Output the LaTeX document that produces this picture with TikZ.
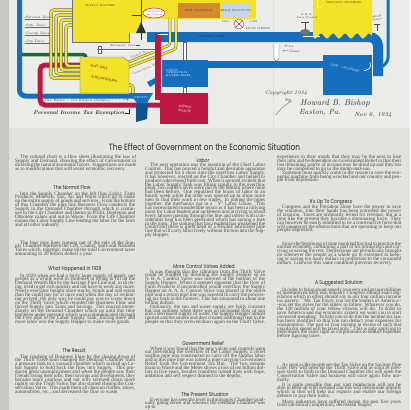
\documentclass[tikz,border=0pt]{standalone}
\usepackage{fontspec}
\newfontfamily\headfont[FakeStretch=0.82]{Poppins}
\newfontfamily\bodyfont{Liberation Serif}
\usetikzlibrary{arrows.meta}
\definecolor{paper}{RGB}{226,227,223}
\definecolor{paperlight}{RGB}{236,237,235}
\definecolor{chartyellow}{RGB}{242,226,40}
\definecolor{chartblue}{RGB}{22,110,190}
\definecolor{chartred}{RGB}{188,24,66}
\definecolor{chartgreen}{RGB}{28,105,50}
\definecolor{chartorange}{RGB}{214,138,48}
\definecolor{chartpale}{RGB}{196,214,232}
\colorlet{inkbody}{black!72}
\colorlet{inkhead}{black!85}
\colorlet{inkdark}{black!80}
\newcommand{\parstart}{\hspace*{5pt}}
\tikzset{
  chart/label/.style={font=\fontsize{2.6}{2.9}\selectfont, inner sep=0pt, text=inkdark},
  chart/hand/.style={font=\itshape\fontsize{3.8}{4.2}\selectfont, inner sep=0pt, text=inkdark},
  chart/head/.style={font=\headfont\fontsize{5.5}{6}\selectfont, inner sep=0pt, text=inkhead},
  chart/body/.style={font={\bodyfont\fontsize{5.1}{3.9}\selectfont\lineskiplimit=-5pt}, text=inkbody,
    text width=#1, align=justify, inner sep=0pt, anchor=base west},
  chart/taxpipe/.style={draw=black!65, line width=0.45pt, double=chartyellow, double distance=#1, rounded corners=3pt}
}

\begin{document}
\begin{tikzpicture}[x=1pt, y=-1pt]
\useasboundingbox (0,0) rectangle (410,410);
\clip (0,0) rectangle (410,410);
\fill[paper] (0,0) rectangle (410,410);
\fill[paperlight] (9,0) rectangle (410,128);
\fill[paper!88!black] (0,0) rectangle (9,410);
\draw[black!12, line width=0.6pt] (273,0) -- (273,410);

% supply side
\draw[chartblue, line width=5pt, rounded corners=6pt] (19.5,-5) -- (19.5,96) -- (140,96);
\draw[chartgreen, line width=3.5pt, rounded corners=3pt] (22,54.5) -- (86,54.5) -- (86,62);
\draw[chartred, line width=5pt, rounded corners=5pt] (82,65) -- (40,65) -- (40,105) -- (163,105);
\foreach \i in {0,...,3}
  \draw[chart/taxpipe=2.4pt] (74,10+5*\i) -- (51+5*\i,10+5*\i) -- (51+5*\i,78-4*\i) -- (82,78-4*\i);
\fill[chartyellow, draw=black!55, line width=0.4pt] (72,-2) rectangle (129,42);
\node[chart/label] (hopper) at (100,6) {SUPPLY HOPPER};
\fill[chartyellow] (129,-2) rectangle (256,19);
\fill[chartyellow] (129,19) rectangle (141,33);
\draw[black!80, line width=0.6pt] (141,0) -- (141,40);
\fill[black!80] (136,33) -- (146,33) -- (141,22) -- cycle;
\draw[black!80, line width=0.8pt] (132,15) -- (141,15);
\draw[chartred, fill=white, line width=0.5pt] (154,13) ellipse [x radius=11, y radius=5];
\node[chart/label, text=chartred, align=center, font=\fontsize{2.2}{2.5}\selectfont] (taxctl) at (154,13) {Conservation\\Tax Control};
\fill[chartorange] (178,3) rectangle (220,18);
\node[chart/label] (raw) at (199,10.5) {RAW MATERIAL};
\fill[chartpale] (222,3) rectangle (250,18);
\node[chart/label] (farm) at (236,10.5) {FARM PRODUCTS};
\draw[black!70, fill=white, line width=0.4pt] (239,24) circle [radius=5];
\draw[chartred, line width=0.5pt] (235.5,20.5) -- (242.5,27.5) (235.5,27.5) -- (242.5,20.5);
\node[chart/label] (yearA) at (227,22) {1934---};
\node[chart/label] (yearB) at (252,22) {---1929};
\node[chart/label] (meter) at (258,28.8) {FLOW METER};

% business flow
\draw[chartblue, line width=10pt, rounded corners=9pt] (147,37) -- (378,37) -- (378,76);
\node[chart/label, text=chartblue!35!black, font=\headfont\addfontfeature{LetterSpace=30}\fontsize{2.6}{3}\selectfont] (bizflow) at (212,37) {BUSINESS FLOW};
\fill[chartyellow] (313,-2) -- (372,-2) -- plot[domain=372:313, samples=60] (\x,{36+2.5*sin(\x*30)}) -- cycle;
\draw[white, line width=0.8pt] (317,-1) -- (317,7) -- (322,7);
\node[chart/label] (demand) at (344,3) {DEMAND CHAMBER};
\foreach \j in {0,1}
  \draw[chart/taxpipe=1.8pt] (170+6*\j,18) -- (170+6*\j,45+4*\j) -- (129,62+5*\j);
\node[chart/label, rotate=22] (ctltax) at (139,54.5) {Control Tax};
\node[chart/label, rotate=22] (constax) at (145,69) {Conservation Tax};
\draw[black!60, line width=0.3pt, double=white, double distance=1pt] (97,50) -- (160,50);
\draw[black!60, line width=0.3pt] (98,46.5) rectangle (101,53.5);
\node[chart/label] (autovalve) at (123,45.5) {Automatic Valve};
\coordinate (valvetip) at (140,45.5);
\draw[black!70, line width=0.3pt, -{Stealth[length=1.5pt]}] (autovalve) -- (valvetip);
\draw[chartred, line width=5.5pt] (158,33) -- (158,100);
\draw[white, line width=0.7pt] (158,34.5) -- (168,34.5);
\node[chart/label, align=center] (nra) at (307,16) {N.\,R.\,A.\\Price Control};
\draw[black!70, line width=0.6pt] (305,22) -- (305,30) (301,22) -- (309,22);
\fill[black!55] (305,32) ellipse [x radius=5, y radius=3];
\draw[white, line width=0.5pt, -{Stealth[length=2pt]}] (303,36.5) -- (320,36.5);
\draw[black!65, line width=0.4pt, fill=white] (274,44) -- (274,58) arc[start angle=180, end angle=0, radius=2.5] -- (279,44);
\node[chart/hand, font=\itshape\fontsize{3.4}{3.8}\selectfont] (gaugeA) at (289,46) {Price};
\node[chart/hand, font=\itshape\fontsize{3.4}{3.8}\selectfont] (gaugeB) at (291,51.5) {$\leftarrow$Gauge};
\draw[chartblue, line width=3pt, rounded corners=4pt] (388,-5) -- (388,62) -- (380,68);
\draw[black!70, line width=0.6pt] (377,24) -- (377,31) (374,24) -- (380,24);
\node[chart/label, align=center, rotate=10] (thrift) at (377,18) {Thrift\\Valve};

% chambers
\fill[chartblue] (162,60) rectangle (208,87);
\node[chart/label, text=white, align=left, anchor=west] (state) at (166,73) {STATE\\OPERATION\\ENTERPRISES};
\fill[chartblue] (207,61) rectangle (324,68);
\fill[chartblue] (323,55) rectangle (372,95);
\node[chart/label, text=white, rotate=-13] (life) at (345,68) {LIFE \quad CHAMBER};
\draw[white, line width=0.6pt, -{Stealth[length=1.8pt]}] (370,62) .. controls (371,68) .. (364,71);
\draw[black!60, line width=0.3pt, fill=white] (183,42) rectangle (186,60);
\draw[black!60, line width=0.3pt, fill=white] (183,87) rectangle (186,93);
\fill[chartred] (160,93) rectangle (208,124);
\node[chart/label, text=white!85!chartred, align=center, rotate=-8, font=\headfont\fontsize{3.4}{4.4}\selectfont] (booster) at (185,109) {BUSINESS\\BOOSTER};
\fill[chartblue] (129,93) -- (153,93) -- (147,103) -- (137,103) -- cycle;
\node[chart/label, text=white] (profit) at (141,97.5) {PROFIT};
\fill[chartblue!75!black] (136,103) -- (148,103) -- (147,119) -- (136,122) -- cycle;
\fill[chartblue] (147,82) -- (155,78) -- (156,83) -- (150,87) -- cycle;
\draw[chart/taxpipe=2.2pt] (124,85) -- (133,85) -- (133,93);
\fill[chartyellow, draw=black!55, line width=0.4pt] (80,57) -- (123,57) -- (129,62) -- (129,93) -- (80,93) -- cycle;
\node[chart/label, text=chartred!60!black, rotate=-10, font=\headfont\fontsize{3.4}{4}\selectfont] (taxes) at (99,67) {GOV'T TAXES};
\node[chart/label, text=chartred!60!black, rotate=-10, font=\headfont\fontsize{3.4}{4}\selectfont] (billions) at (104,79) {20 BILLION DOLLARS};
\foreach \y/\t in {18/National Taxes, 26/State Taxes, 34/County Taxes, 42/City Taxes} {
  \node[chart/hand, anchor=base west, font=\itshape\fontsize{3.4}{4}\selectfont] (lbl\y) at (25,\y) {\t};
  \draw[black!60, line width=0.3pt] (25,\y+1.2) -- (50,\y+1.2);
}
\node[chart/hand, anchor=west] (waste) at (44,100.8) {Tax Waste -- (10 Billion Dollars) $\cdots\rightarrow$};
\node[font=\itshape\bfseries\fontsize{5.5}{6}\selectfont, inner sep=0pt, text=black!85] (exempt) at (79,113.5) {Personal Income Tax Exemption};
\draw[black!85, line width=0.5pt] (exempt.east) -- ++(4,0) -- ++(0,-5);

% signature
\node[chart/hand, font=\itshape\fontsize{5.4}{6}\selectfont] (copy) at (286,93.5) {Copyright 1934};
\node[chart/hand, font=\itshape\fontsize{5}{6}\selectfont] (by) at (288,100.5) {by};
\draw[black!55, line width=0.4pt] (276,115) .. controls (281,108) and (286,104) .. (292,101);
\node[chart/hand, font=\itshape\fontsize{8.5}{9}\selectfont] (author) at (335,103) {Howard B. Bishop};
\node[chart/hand, font=\itshape\fontsize{7.5}{8}\selectfont] (town) at (320,113) {Easton, Pa.};
\node[chart/hand, font=\itshape\fontsize{6}{7}\selectfont] (date) at (373,115) {Nov 6, 1934};

% text
\node[font=\headfont\fontsize{9}{10}\selectfont, inner sep=0pt, text=inkhead] (title) at (204.5,147) {The Effect of Government on the Economic Situation};
\node[chart/head] (hNormal) at (72,187) {The Normal Flow};
\node[chart/head] (hCrash) at (75,269) {What Happened In 1929};
\node[chart/head] (hResult) at (74,350) {The Result};
\node[chart/head] (hLabor) at (203,160) {Labor};
\node[chart/head] (hValves) at (204,266) {More Control Valves Added};
\node[chart/head] (hRelief) at (203,343) {Government Relief};
\node[chart/head] (hPresent) at (205,394) {The Present Situation};
\node[chart/head] (hCongress) at (331,202) {It's Up To Congress};
\node[chart/head] (hSolution) at (339,283) {A Suggested Solution};

\node[chart/body=121pt] (intro) at (15,158.5) {\parstart The colored chart is a flow sheet illustrating the law of Supply and Demand, showing the effect of Government in directing the natural economic forces. Suggestions are made as to modifications that will assist economic recovery.};
\node[chart/body=120pt] (normalA) at (15,195) {\parstart Into the Supply Chamber on the left flow Labor, Farm Products, Minerals, Sun, Air and Water which go to make up the entire supply of goods and services. From the bottom of this Chamber the pipe line Business Flow conducts the Supply to the Demand Chamber through which it continues to the Life Chamber and thence to Profit, Depletion and Obsolete values and out to Waste. From the Life Chamber comes the Labor Supply Line feeding the labor for the farm and all other industry.};
\node[chart/body=120pt] (normalB) at (15,244) {\parstart The four pipe lines coming out of the side of the Supply Chamber represent the City, County, State and National Taxes which, together, make up the total Government taxes amounting to 20 billion dollars a year.};
\node[chart/body=120pt] (crashA) at (15,277) {\parstart In 1929 when we had a fairly large supply of goods, our people as a whole went to extremes in trying to fill up the Demand Wealth Bin by the Savings Pipe Line and, in so doing, tried to get rich quickly and not have to work any more. Nearly everyone bought more stocks, bonds and real estate than he could pay for at once and when the day of reckoning arrived, the only way he could pay was to screw down on the Thrift Valve which retarded the Business Flow and forced Supply into Taxes and Savings. This reacted immediately on the Demand Chamber which up until this time had been under pressure which was communicated through the Free pipe to the Labor Supply Tank, forcing more and more labor into the Supply Hopper to make more goods.};
\node[chart/body=120pt] (resultA) at (15,358) {\parstart The crushing of Business Flow by the closing down of the Thrift Valve soon changed the Demand Chamber from a pressure tank to a vacuum chamber which sucked up Labor Supply to hold back the flow into Supply. This produced great unemployment and when the people saw their friends losing their jobs, their savings and investments, they became more cautious and not only screwed down more tightly on the Thrift Valve, but also started closing the Conservation Valve. This made them all cheat on clothes, shoes, automobiles, etc., and decreased the flow to waste.};

\node[chart/body=120pt] (laborA) at (145,166.5) {\parstart The next operation was the insertion of the Chief Labor Control. This has proved a helpful and desirable apparatus and protected for a short time the overflow Labor Supply. It has however, reacted on the City Chamber and helped to produce a decreased birth rate. When it seemed evident that the Labor Supply Tank was filling rapidly to the overflow point, two outlet valves were put in the bottom where none had been before. One regulated the hours of labor to an hourly week while the other was opened up to allow more men to find their work in few trades. In joining the pipes together, the mechanics put in a ``Y'' Labor Union. This has necessitated considerable repair as it has been a rallying point for Labor leaders and racketeers and in trying to hoard every laborer passing through the line and others with considerable heat has been generated which has sprung a leak in the joint. The sinking that has resulted has weakened the Union and there is great need of a flexible lubricated pipe line that will carry labor freely without friction into the Supply Hopper.};
\node[chart/body=120pt] (valvesA) at (145,273) {\parstart It was thought that the vibration from the Thrift Valve could be stopped by throttling the Supply Hopper so an N.\,R.\,A. Control Valve was inserted at the bottom of the Supply Hopper. When it seemed apparent that the flow of Farm Products if uncontrolled would overflow the Supply Hopper an A.\,A.\,A. Control Valve was placed in the outlet pipe and a return pipe line was inserted to carry the processing tax back to the farmers. This has amounted to about one billion dollars.\par\parstart Ordinarily, the sun and water supply are fairly constant but last summer when there was an increased flow of sun and a decreased supply of water, the Supply Hopper almost ignited and the smoke and dust created additional fear in the people so that they screwed down again on the Thrift Valve.};
\node[chart/body=120pt] (reliefA) at (145,350) {\parstart When it was found that the new valves and controls were not preventing the overflow of the Labor Supply, a relief surplus pipe was constructed to carry off the surplus labor and in this pipe line was joined a pipe carrying Government Relief from the Government Tax Bin. The two streams drain to Waste and the Meter shows a loss of ten billion dollars in five years, besides countless ruined lives with hope, ambition and self respect drained to the depths.};
\node[chart/body=120pt] (presentA) at (145,401) {\parstart Everyone has seen the level in the Supply Chamber gradually going down and whereas the Demand Chamber was up to};

\node[chart/body=124pt] (contA) at (277,158.5) {experience in their minds that they may be the next to lose their jobs and be dependent on Government Relief or that their last remaining source of income may be dried up and they too may be compelled to go to the dump-and-sun.\par\parstart Someone must quickly come to the rescue to save the economic machine from being wrecked and our country and people from depression.};
\node[chart/body=124pt] (congressA) at (277,208.5) {\parstart Congress and the President alone have the power to save the situation, into their hands has been entrusted the power of taxation. Taxes are ordinarily levied for revenue, but at a time like the present they become a dominating force. They can however be easily modified to be a constructive force that will counteract the obstructions that are operating to keep our people depressed.};
\node[chart/body=124pt] (congressB) at (277,245) {\parstart Since the beginning of time mankind has had to practice the normal economy, consuming a part of his production and carrying or saving the rest. Depressions are periodically brought on whenever the people as a whole go to extremes in keeping or saving too many dollars in proportion to the consumed dollars. Likewise this same condition prevents recovery.};
\node[chart/body=124pt] (solutionA) at (277,291) {\parstart In order to bring about speedy recovery and get our millions of unemployed back into industry Congress should enact legislation which in effect should say to our four million income tax payers: ``Mr. Tax Payer, you are the leaders of America---you set the styles for the others to follow. Whatever you do, the 120 million of your fellow citizens will do. In order to save America and our economic system we want you to start increased spending. To help you to do this the income tax law has been modified so that you can deduct your expenses for consumption. The part of your income in excess of such that you do not spend will be taxed only.'' This is only applying to individuals the same right as corporations to deduct expenses before figuring taxes.};
\node[chart/body=124pt] (solutionB) at (277,366) {\parstart As soon as the people see the Tax Valve on the Savings Pipe Line, they will open up the Thrift Valve and as soon as pressure starts to form in the Demand Chamber this will open the Conservation Valve and business will once again flow normally.};
\node[chart/body=124pt] (solutionC) at (277,386) {\parstart It is quite possible that our vast production will not be able to keep up with demand and this will necessitate imports which in turn will help our exports and enable our foreign debtors to pay their loans.};
\node[chart/body=124pt] (solutionD) at (277,403) {\parstart Many industries have suffered during the past five years from cut-throat competition, decreased wages,};
\end{tikzpicture}
\end{document}
